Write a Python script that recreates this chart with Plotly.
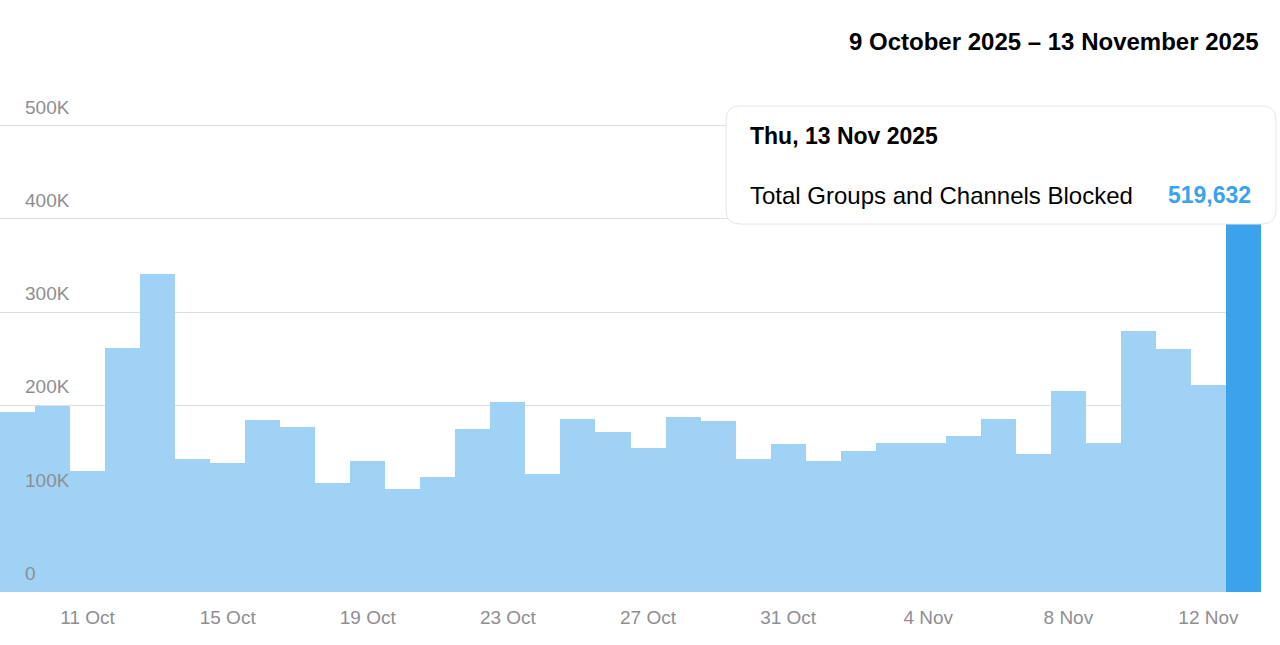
import plotly.graph_objects as go
import pandas as pd

dates = pd.date_range("2025-10-09", "2025-11-13").strftime("%Y-%m-%d").tolist()
values = [193500, 199000, 130000, 262000, 341000, 143000, 138000, 184000, 177000, 117000,
          140000, 110000, 123000, 175000, 204000, 126000, 186000, 172000, 154000, 188000,
          183000, 143000, 159000, 140000, 151000, 160000, 160000, 167000, 186000, 148000,
          216000, 160000, 280000, 261000, 222000, 519632]
tick_dates = ["2025-10-11", "2025-10-15", "2025-10-19", "2025-10-23", "2025-10-27",
              "2025-10-31", "2025-11-04", "2025-11-08", "2025-11-12"]
tick_text = ["11 Oct", "15 Oct", "19 Oct", "23 Oct", "27 Oct", "31 Oct", "4 Nov", "8 Nov", "12 Nov"]
y_ticks = [0, 100000, 200000, 300000, 400000, 500000]
y_text = ["0", "100K", "200K", "300K", "400K", "500K"]

colors = ["#a0d2f6"] * (len(values) - 1) + ["#3aa3eb"]
FONT = "Liberation Sans"

fig = go.Figure(go.Bar(x=dates, y=values, marker=dict(color=colors, line=dict(width=0))))

fig.update_layout(
    width=1280, height=645, margin=dict(l=0, r=19, t=79, b=53),
    paper_bgcolor="white", plot_bgcolor="white", bargap=0, showlegend=False,
    font=dict(family=FONT, color="#8e8e93", size=19),
    xaxis=dict(type="date", range=["2025-10-08 12:00", "2025-11-13 12:00"],
               tickvals=tick_dates, ticktext=tick_text, showgrid=False,
               ticks="", ticklabelstandoff=12, tickfont=dict(size=19, color="#8e8e93")),
    yaxis=dict(range=[0, 550000], tickvals=y_ticks, showticklabels=False,
               gridcolor="#dedede", gridwidth=1, zeroline=False),
)
for v, t in zip(y_ticks, y_text):
    fig.add_annotation(x=26 / 1261, xref="paper", y=v, yref="y", text=t, showarrow=False,
                       xanchor="left", yanchor="bottom", yshift=6, xshift=-3,
                       font=dict(size=19, color="#8e8e93", family=FONT))

fig.add_annotation(x=1.0, xref="paper", y=(592 - 42) / 513, yref="paper",
                   text="<b>9 October 2025 – 13 November 2025</b>", showarrow=False,
                   xanchor="right", yanchor="middle", font=dict(size=24, color="black", family=FONT))

def px(x): return x / 1261
def py(y): return (592 - y) / 513
L, R, T, B, rad = 726, 1276, 106, 224, 14
path = (f"M {px(L+rad)} {py(T)} L {px(R-rad)} {py(T)} Q {px(R)} {py(T)} {px(R)} {py(T+rad)} "
        f"L {px(R)} {py(B-rad)} Q {px(R)} {py(B)} {px(R-rad)} {py(B)} "
        f"L {px(L+rad)} {py(B)} Q {px(L)} {py(B)} {px(L)} {py(B-rad)} "
        f"L {px(L)} {py(T+rad)} Q {px(L)} {py(T)} {px(L+rad)} {py(T)} Z")
fig.add_shape(type="path", xref="paper", yref="paper", path=path,
              fillcolor="white", line=dict(color="#e6e6e6", width=1), layer="above")
fig.add_annotation(x=px(748), xref="paper", y=py(136), yref="paper",
                   text="<b>Thu, 13 Nov 2025</b>", showarrow=False, xanchor="left",
                   yanchor="middle", font=dict(size=23, color="black", family=FONT))
fig.add_annotation(x=px(748), xref="paper", y=py(195), yref="paper",
                   text="Total Groups and Channels Blocked", showarrow=False, xanchor="left",
                   yanchor="middle", font=dict(size=24, color="black", family=FONT))
fig.add_annotation(x=px(1253), xref="paper", y=py(195), yref="paper",
                   text="<b>{:,}</b>".format(values[-1]), showarrow=False, xanchor="right",
                   yanchor="middle", font=dict(size=23, color="#3aa3eb", family=FONT))

fig.write_html("out.html", post_script="document.body.style.margin='0';",
               config={"displayModeBar": False})
